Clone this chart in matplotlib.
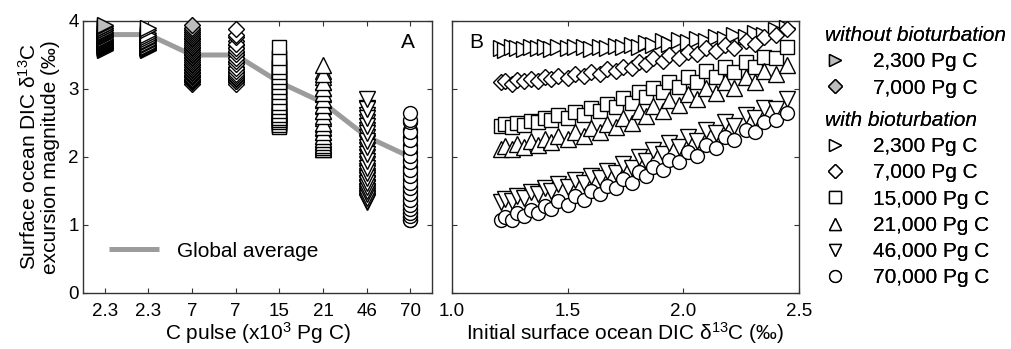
import matplotlib
matplotlib.use("Agg")
import matplotlib.pyplot as plt
from matplotlib.lines import Line2D

plt.rcParams['font.family'] = ['Liberation Sans', 'DejaVu Sans']
plt.rcParams['mathtext.fontset'] = 'custom'
plt.rcParams['mathtext.rm'] = 'Liberation Sans'
plt.rcParams['mathtext.it'] = 'Liberation Sans:italic'

# ---- data -------------------------------------------------------------
pulse_labels = ["2.3", "2.3", "7", "7", "15", "21", "46", "70"]
global_average = [3.8, 3.8, 3.5, 3.5, 3.1, 2.8, 2.3, 2.0]

# initial surface ocean DIC d13C (permil) of each ensemble member
initial_d13c = [1.21, 1.23, 1.26, 1.28, 1.31, 1.34, 1.37, 1.40, 1.43, 1.46, 1.50, 1.53,
                1.57, 1.60, 1.64, 1.67, 1.71, 1.74, 1.78, 1.81, 1.84, 1.87, 1.91, 1.94,
                1.98, 2.02, 2.06, 2.10, 2.14, 2.18, 2.22, 2.27, 2.31, 2.35, 2.40, 2.45]

# excursion magnitudes without bioturbation
exc_2300_nobio = [3.58, 3.59, 3.60, 3.60, 3.61, 3.61, 3.62, 3.62, 3.63, 3.63, 3.64, 3.64,
                  3.65, 3.65, 3.66, 3.67, 3.68, 3.69, 3.70, 3.71, 3.72, 3.73, 3.74, 3.76,
                  3.77, 3.78, 3.80, 3.81, 3.83, 3.84, 3.86, 3.87, 3.89, 3.90, 3.92, 3.94]
exc_7000_nobio = [3.08, 3.10, 3.12, 3.13, 3.15, 3.17, 3.19, 3.21, 3.23, 3.25, 3.28, 3.30,
                  3.32, 3.35, 3.37, 3.40, 3.42, 3.45, 3.47, 3.50, 3.52, 3.55, 3.57, 3.60,
                  3.62, 3.65, 3.68, 3.70, 3.73, 3.75, 3.78, 3.81, 3.84, 3.87, 3.90, 3.94]

# excursion magnitudes with bioturbation
exc_2300 = [3.60, 3.58, 3.61, 3.60, 3.59, 3.61, 3.60, 3.62, 3.59, 3.61, 3.60, 3.62,
            3.61, 3.59, 3.62, 3.60, 3.63, 3.61, 3.65, 3.62, 3.68, 3.64, 3.70, 3.66,
            3.72, 3.69, 3.74, 3.70, 3.77, 3.73, 3.80, 3.76, 3.83, 3.79, 3.86, 3.90]
exc_7000 = [3.10, 3.12, 3.08, 3.13, 3.11, 3.15, 3.12, 3.17, 3.14, 3.19, 3.16, 3.22,
            3.19, 3.25, 3.22, 3.29, 3.26, 3.33, 3.31, 3.40, 3.36, 3.45, 3.41, 3.50,
            3.46, 3.55, 3.51, 3.60, 3.56, 3.65, 3.60, 3.70, 3.66, 3.76, 3.80, 3.88]
exc_15000 = [2.45, 2.48, 2.44, 2.50, 2.47, 2.53, 2.51, 2.57, 2.54, 2.62, 2.58, 2.66,
             2.61, 2.72, 2.68, 2.78, 2.73, 2.86, 2.80, 2.95, 2.88, 3.02, 2.96, 3.10,
             3.03, 3.18, 3.10, 3.26, 3.18, 3.32, 3.25, 3.40, 3.33, 3.47, 3.45, 3.62]
exc_21000 = [2.12, 2.16, 2.11, 2.19, 2.15, 2.23, 2.18, 2.27, 2.22, 2.31, 2.26, 2.36,
             2.31, 2.42, 2.37, 2.49, 2.44, 2.58, 2.50, 2.67, 2.60, 2.75, 2.68, 2.84,
             2.76, 2.93, 2.85, 3.02, 2.94, 3.10, 3.02, 3.18, 3.10, 3.26, 3.22, 3.35]
exc_46000 = [1.34, 1.38, 1.35, 1.43, 1.40, 1.48, 1.45, 1.54, 1.50, 1.60, 1.56, 1.66,
             1.62, 1.72, 1.69, 1.80, 1.76, 1.90, 1.84, 2.00, 1.94, 2.10, 2.04, 2.20,
             2.14, 2.30, 2.24, 2.40, 2.35, 2.52, 2.46, 2.62, 2.57, 2.72, 2.70, 2.85]
exc_70000 = [1.08, 1.12, 1.07, 1.17, 1.13, 1.22, 1.18, 1.28, 1.24, 1.35, 1.30, 1.42,
             1.37, 1.50, 1.45, 1.58, 1.54, 1.67, 1.62, 1.78, 1.72, 1.86, 1.81, 1.96,
             1.92, 2.07, 2.02, 2.18, 2.13, 2.29, 2.25, 2.40, 2.36, 2.51, 2.55, 2.65]

GRAY = "#bdbdbd"
# (values, marker, face colour, label, shown in panel B)
series = [
    (exc_2300_nobio, ">", GRAY, "2,300 Pg C", False),
    (exc_2300, ">", "white", "2,300 Pg C", True),
    (exc_7000_nobio, "D", GRAY, "7,000 Pg C", False),
    (exc_7000, "D", "white", "7,000 Pg C", True),
    (exc_15000, "s", "white", "15,000 Pg C", True),
    (exc_21000, "^", "white", "21,000 Pg C", True),
    (exc_46000, "v", "white", "46,000 Pg C", True),
    (exc_70000, "o", "white", "70,000 Pg C", True),
]
sizes = {">": 11, "D": 8.5, "s": 9.5, "^": 11, "v": 11, "o": 10}

# ---- figure -----------------------------------------------------------
fig = plt.figure(figsize=(10.11, 3.49), dpi=100)
axA = fig.add_axes([0.0821, 0.1605, 0.3452, 0.7794])
axB = fig.add_axes([0.4471, 0.1605, 0.3432, 0.7794])

SPINE = "#333333"
for ax in (axA, axB):
    for s in ax.spines.values():
        s.set_color(SPINE)
        s.set_linewidth(1.0)
    ax.tick_params(direction="in", length=3.5, width=0.8, color=SPINE,
                   top=True, right=True, labelsize=13.5)
    ax.tick_params(axis="x", pad=7)
    ax.set_ylim(0, 4)
    ax.set_yticks([0, 1, 2, 3, 4])

# panel A
positions = list(range(1, len(pulse_labels) + 1))
axA.plot(positions, global_average, color="#9c9c9c", lw=3.6, zorder=1,
         solid_capstyle="butt", label="Global average")
for i, (vals, m, fc, lab, inB) in enumerate(series):
    axA.plot([positions[i]] * len(vals), vals, ls="none", marker=m, ms=sizes[m],
             mfc=fc, mec="black", mew=1.0, zorder=3, clip_on=False)
axA.set_xlim(0.5, 8.5)
axA.set_xticks(positions)
axA.set_xticklabels(pulse_labels)
axA.tick_params(axis="y", pad=3)
axA.set_xlabel("C pulse (x10$^{\\mathrm{3}}$ Pg C)", fontsize=15, labelpad=0)
axA.set_ylabel("Surface ocean DIC δ$^{\\mathrm{13}}$C\nexcursion magnitude (‰)",
               fontsize=15, labelpad=6, linespacing=1.05)
axA.text(0.95, 0.92, "A", transform=axA.transAxes, fontsize=15,
         ha="right", va="center")
axA.legend(loc="lower left", bbox_to_anchor=(0.02, 0.05), frameon=False,
           fontsize=15, handlelength=2.4, handletextpad=0.9)

# panel B
for vals, m, fc, lab, inB in series:
    if inB:
        axB.plot(initial_d13c, vals, ls="none", marker=m, ms=sizes[m],
                 mfc=fc, mec="black", mew=1.0, zorder=3, clip_on=False)
axB.set_xlim(1.0, 2.5)
axB.set_xticks([1.0, 1.5, 2.0, 2.5])
axB.set_xticklabels(["1.0", "1.5", "2.0", "2.5"])
axB.set_yticklabels([])
axB.set_xlabel("Initial surface ocean DIC δ$^{\\mathrm{13}}$C (‰)", fontsize=15,
               labelpad=0)
axB.text(0.05, 0.92, "B", transform=axB.transAxes, fontsize=15,
         ha="left", va="center")

# legend on the right
def handle(m, fc):
    return Line2D([], [], ls="none", marker=m, ms=sizes[m] * 0.85, mfc=fc,
                  mec="black", mew=1.0)

groups = [("without bioturbation", [s for s in series if s[2] == GRAY], 0.925),
          ("with bioturbation", [s for s in series if s[4]], 0.683)]
for title, members, ytop in groups:
    leg = fig.legend([handle(s[1], s[2]) for s in members],
                     [s[3] for s in members],
                     loc="upper left", bbox_to_anchor=(0.816, ytop),
                     frameon=False, fontsize=15, title=title,
                     title_fontproperties={"size": 15, "style": "italic"},
                     alignment="left", handlelength=1.0, handletextpad=1.3,
                     labelspacing=0.35, borderpad=0.0, borderaxespad=0.0)
    fig.add_artist(leg)

fig.savefig("out.png", dpi=100)
